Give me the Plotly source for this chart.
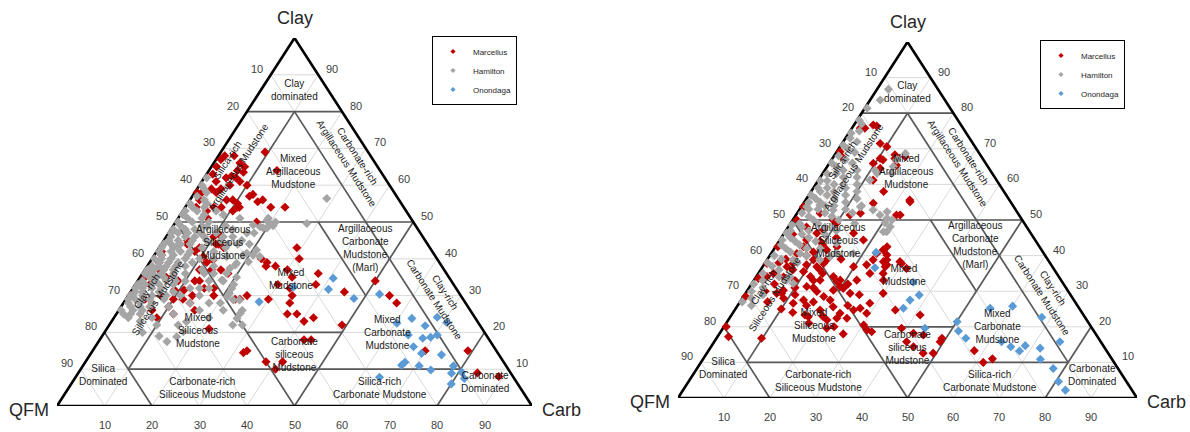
import numpy as np
import plotly.graph_objects as go

# ---------------- data: (clay %, carbonate %) pairs; QFM = 100 - clay - carb ----------------
left_marcellus = [
    (54, 21), (43, 29), (40, 31), (37, 30), (35, 32), (36, 37), (33, 38), (30, 34.5), (28, 35), (25, 38),
    (23, 40.5), (24, 42), (31, 45), (34, 50), (30, 55), (28, 57.5), (22, 49), (18, 43), (12, 41.5), (15, 70),
    (15, 79), (9, 84), (8, 89), (54, 11), (50, 17), (40, 23), (38, 25), (38, 27), (37, 16), (34, 13),
    (37, 14), (33, 30), (32, 33), (29, 30), (30, 25), (29, 24), (29, 23), (14.5, 32), (12, 38), (10, 41),
    (54, 18), (55, 10.5), (37, 11.5), (32, 15), (32, 17), (36, 18), (39, 12), (34, 12), (30, 13.5), (29, 12),
    (30, 18), (26, 16), (31.5, 11), (34, 8.5), (31.5, 9), (39, 2), (37, 3), (35, 5.5), (30, 7), (29, 10),
    (33, 3), (43, 8.5), (42, 8), (45, 5), (21, 21.5), (15, 32.5), (18, 44.5), (25, 36), (44, 12), (46, 10),
    (42, 1), (41, 1.5), (35, 1), (29, 4), (30, 0.5), (27, 10), (26, 7), (25, 12), (28, 14), (24, 9),
    (68, 1.3), (68, 3.3), (69, 9.3), (64, 14.3), (57, 12), (56, 15.3), (63, 1.3), (58, 0.5), (56, 2), (53, 5),
    (54, 6), (56, 7.7), (53, 10.5), (59, 5), (60, 6.4), (61, 8), (60, 10), (64, 6), (62, 4.6), (61, 3),
    (67, 1), (66, 5.5), (65, 7), (65, 1.1), (62.5, 5.5), (62, 6.7), (63.5, 7.5), (59, 3), (58, 1.5), (58, 4.5),
    (56, 9), (57.5, 12.5), (55.5, 14.5), (54, 11.4), (54, 7.6), (51, 6.2), (54, 2.3), (46.5, 11), (44, 11.5), (43, 13.6),
    (44, 5.4), (40.6, 10.5), (39.7, 13), (39, 24.7),
]
left_hamilton = [
    (49.5, 20), (49, 21), (48.4, 20), (48.7, 18.4), (50, 21), (49.6, 27.8), (56.4, 28.6), (47, 16.5), (44, 18.5), (42.4, 20.8),
    (41, 20.8), (41, 18.7), (38.8, 18.4), (37.4, 17.7), (36, 17.7), (34.2, 17.6), (32, 20.8), (29.7, 21), (28.8, 22.7), (28, 20.4),
    (25.2, 26), (23.8, 26), (22, 28), (22, 26), (20.2, 16.5), (18.8, 15.8), (17.5, 14.4), (49.2, 16.7), (50.5, 19), (48.4, 19.2),
    (45, 16.4), (41.5, 19.2), (40.6, 22.4), (38.3, 18.4), (40.6, 15.4), (47, 4), (45, 6), (47, 6.7), (48.7, 7.2), (43.3, 3.5),
    (62, 0.5), (51, 19), (39.2, 20.7), (35, 20.3), (33, 20.7), (30.6, 21), (28.8, 24), (26, 26), (22.9, 15.8), (22, 14.5),
    (60, 0.5), (59, 1.5), (58, 2.5), (57, 1), (56, 3), (55, 0.5), (55, 4), (54, 1.5), (53, 3), (52, 0.5),
    (52, 5), (51, 2), (50, 3.5), (50, 0.5), (49, 6), (49, 1.5), (48, 3), (47, 0.5), (47, 2), (46, 4),
    (46, 8), (45, 1), (45, 3), (44, 6), (44, 2), (43, 0.5), (43, 9), (42, 3), (42, 5), (41, 1.5),
    (41, 7), (40, 0.5), (40, 4), (40, 10), (39, 2), (39, 6), (38, 1), (38, 4), (38, 8), (37, 2),
    (37, 6), (37, 12), (36, 0.5), (36, 4), (36, 9), (35, 2), (35, 5), (35, 7), (34, 1), (34, 3.5),
    (34, 10), (33, 0.5), (33, 5), (33, 8), (32, 2), (32, 4), (32, 12), (31, 1), (31, 6), (31, 9),
    (30, 3), (30, 0.5), (30, 11), (29, 2), (29, 5), (29, 8), (28, 1), (28, 3.5), (28, 14), (27, 2),
    (27, 6), (27, 10), (26, 0.5), (26, 3), (25, 1.5), (25, 5), (25, 12), (24, 3), (24, 8), (23, 6),
    (22, 10), (20, 8), (19, 12), (30, 15), (32, 16), (34, 15), (36, 13), (28, 18), (26, 17), (24, 20),
    (26, 22), (43, 14), (45, 12), (47, 10), (52, 9), (53, 7), (51, 13), (48, 13), (49, 11),
    (54, 4), (53, 0.5), (51, 5), (50, 7), (48, 5), (48, 0.5), (46, 1), (46, 6), (45, 9), (44, 0.5),
    (44, 4), (43, 3), (42, 7), (42, 0.5), (41, 4), (40, 2), (40, 7), (39, 4), (39, 9), (38, 2.5),
    (38, 6), (37, 4), (37, 0.5), (36, 2), (36, 6.5), (35, 3.5), (34, 6), (34, 8), (33, 2), (33, 3.5),
    (32, 6), (32, 0.5), (31, 2.5), (30, 5), (30, 8), (29, 0.5), (29, 3.5), (28, 6), (27, 4), (26, 5),
    (25, 3), (46, 12), (44, 14), (42, 12), (40, 13), (38, 14), (36, 15), (34, 18), (32, 14), (44, 16),
    (46, 14), (47, 18),
]
left_onondaga = [
    (34.7, 40.8), (31.7, 41.3), (29.2, 47.9), (30.4, 52.7), (23.8, 62.8), (21.8, 66.6), (24.1, 68), (22.7, 70.7), (22.5, 60.3), (19.3, 64.3),
    (18.4, 67.8), (18.7, 69.3), (19.3, 70.4), (16.1, 67), (14.3, 69.6), (13.9, 74), (11.1, 67), (11.9, 67.3), (10.9, 70.8), (9.8, 73.8),
    (10.9, 78), (8.9, 78.6), (9.2, 80.6), (7.8, 64), (28.3, 28.4), (32.3, 33.6), (6, 80), (7.5, 82),
]
right_marcellus = [
    (76.4, 5.1), (75.8, 1.8), (75.8, 2.8), (70.6, 10.2), (67.3, 10.4), (66.9, 11.2), (67.3, 13.6), (67.8, 15.6), (65.9, 9.6), (58, 15.8),
    (55.6, 22.7), (69.2, 0.7), (67.8, 1.8), (76.7, 4.2), (71.5, 8.3), (68.3, 13.1), (65.4, 14.9), (64.5, 11.8), (61.2, 11.9), (51.4, 21.9),
    (29.4, 30), (42.5, 0.5), (37.8, 0.5), (33.6, 0.7), (28.5, 0.5), (20, 0.5), (17.2, 2.4), (16.8, 9.8), (29.4, 7.9), (37.4, 9.3),
    (36.9, 11.8), (36, 12.9), (37.8, 12.8), (38.8, 13), (38.8, 10.1), (35.5, 9.6), (34.1, 11.8), (33.1, 14.4), (34.1, 16.8), (32.7, 18.3),
    (33.1, 18.8), (31.3, 12.4), (29.9, 15.3), (28.5, 17.5), (27.5, 19.4), (25.6, 21), (24.7, 18.6), (27.5, 13.6), (26.6, 11.8), (23.8, 23.4),
    (22.4, 23.4), (22.4, 25.6), (21.9, 21.5), (24.7, 25.9), (23.8, 29.2), (25.2, 27.1), (26.6, 28.5), (29.4, 22.8), (33.1, 22.4), (37.4, 22.4),
    (38.8, 23.1), (41.6, 23.9), (42.5, 24.3), (37.4, 26.8), (38.3, 29.2), (35, 27.2), (35, 24.3), (36.9, 19.8), (20.5, 30.2), (19.1, 31.6),
    (18.6, 32.9), (19.6, 38.9), (18.2, 42.2), (15.8, 41.9), (14.4, 44.1), (22.8, 17), (23.3, 16), (30.3, 18.7), (31.3, 19.7), (30.8, 20.6),
    (29.4, 6.8), (30.3, 7.8), (34.1, 2.3), (35, 3.3), (36.9, 5.3), (37.8, 6.2), (40.6, 5.6), (42.5, 6.1), (44.4, 5.8), (46.3, 7.1),
    (47.2, 8.1), (41.6, 11.6), (42.5, 13.4), (46.3, 15.1), (44.4, 18.2), (40.6, 23), (40.2, 25.4), (38.3, 25.6), (50, 0.9), (53.7, 0.5),
    (51.9, 5), (50, 8.8), (51.4, 11.8), (51.9, 13.8), (54.7, 15.2), (51.4, 22.7), (55.1, 23), (38.8, 26.1), (36.9, 26.7), (33.1, 28.2),
    (37.8, 29.8), (36.4, 31.6), (24.7, 35), (23.3, 41.1), (17.7, 44.6), (15.8, 49.2), (12.6, 49.3), (12.6, 47.1), (16.8, 49.1), (13.3, 57.9),
    (10, 61.5), (11, 63), (19.6, 22.6), (40, 8), (39, 4), (41, 9), (43, 10), (38, 3), (36, 7), (34, 6),
    (33, 9), (32, 5), (31, 10), (30, 4), (28, 9), (27, 6), (26, 15), (25, 10), (24, 13), (35, 14),
    (33, 13), (39, 16), (44, 9), (45, 12), (48, 4), (49, 10), (46, 2), (31, 14), (29, 11), (27, 16),
    (32, 21), (29, 25), (26, 24), (23, 20), (21, 18), (20, 24), (18, 27),
]
right_hamilton = [
    (86.7, 2.5), (83.7, 2.2), (81.4, 0.5), (74.4, 0.5), (64, 10.9), (63.1, 11.8), (61.2, 11.2), (49.2, 20.5), (50, 21.6), (46.7, 22.1),
    (48.6, 0.5), (46.3, 0.5), (44.4, 0.5), (38.8, 5.7), (40.6, 6.3), (42, 7), (38.8, 11.5), (39.7, 13.3), (40.6, 14.3), (40.6, 17.9),
    (46.7, 21.4), (50.5, 20.3), (51.4, 18.3), (52.8, 16.1), (53.7, 12.9), (52.8, 7.4), (54.2, 3.8), (53.7, 1.2), (34.1, 7.3), (32.2, 9),
    (33.1, 7.1), (66.9, 14.2), (65, 14.4), (68.7, 15.2), (63.1, 15), (43.5, 12.8), (52.3, 19.4), (48.1, 22.2),
    (78, 0.5), (77, 1.5), (75, 2), (73, 1), (72, 3), (71, 0.5), (70, 2), (69, 4), (68, 1), (67, 3),
    (66, 5), (66, 0.5), (65, 2), (64, 4), (64, 7), (63, 1), (63, 3), (62, 5), (62, 8), (61, 2),
    (61, 0.5), (60, 4), (60, 6), (60, 9), (59, 1), (59, 3), (59, 7), (58, 2), (58, 5), (58, 10),
    (57, 0.5), (57, 4), (57, 8), (56, 2), (56, 6), (56, 11), (55, 1), (55, 3.5), (55, 9), (54, 5),
    (54, 7), (54, 13), (53, 2), (53, 4), (53, 10), (52, 1), (52, 6), (52, 12), (51, 3), (51, 8),
    (50, 4.5), (50, 10), (49, 2), (49, 6), (49, 14), (48, 3), (48, 8), (47, 1), (47, 5), (47, 11),
    (46, 4), (46, 9), (45, 2), (45, 6), (44, 3.5), (44, 8), (43, 1), (43, 5), (42, 2.5), (42, 10),
    (41, 4), (40, 1), (40, 8), (39, 3), (38, 0.5), (38, 7), (37, 2), (36, 4), (35, 1), (34, 5),
    (33, 2), (32, 0.5), (31, 3), (30, 1), (29, 4), (28, 2), (27, 0.5), (26, 3),
]
right_onondaga = [
    (40.9, 22.7), (36.6, 24.6), (32.5, 35), (28.9, 38.1), (27.5, 36.8), (25.2, 36.5), (19.6, 44), (21.4, 50.1), (18.8, 51.7), (16.8, 54.3),
    (25.2, 55.4), (25.8, 60), (22.7, 67.9), (15.8, 75.3), (14, 71.9), (10.9, 73.5), (15.8, 62.6), (14.4, 65.3), (14.7, 68.3), (13.2, 67.8),
    (8.3, 77.6), (4.6, 80.6), (2.2, 83.3),
]

SERIES = ["Marcellus", "Hamilton", "Onondaga"]
COLORS = ["#C00000", "#A5A5A5", "#5B9BD5"]
TICKS = [10, 20, 30, 40, 50, 60, 70, 80, 90]
CORNERS = ["Clay", "QFM", "Carb"]

# facies boundaries of the classification, (clay, carb) -> (clay, carb)
FACIES = [
    ((80, 0), (80, 20)), ((50, 0), (50, 50)), ((20, 0), (0, 20)), ((50, 0), (0, 50)),
    ((20, 80), (0, 80)), ((50, 50), (0, 50)), ((80, 10), (10, 10)), ((80, 10), (10, 80)),
    ((10, 10), (10, 80)), ((50, 20), (30, 20)), ((50, 30), (30, 50)), ((20, 30), (20, 50)),
]

# facies names: text, position inside the triangle (x along base, height), rotation
LABELS = [
    ("Clay<br>dominated", 49.9, 86.0, 0),
    ("Silica-rich<br>Argillaceous Mudstone", 37.1, 66.0, -57),
    ("Mixed<br>Argillaceous<br>Mudstone", 49.7, 63.6, 0),
    ("Carbonate-rich<br>Argillaceous Mudstone", 62.1, 66.8, 57),
    ("Argillaceous<br>Siliceous<br>Mudstone", 34.9, 44.3, 0),
    ("Argillaceous<br>Carbonate<br>Mudstone<br>(Marl)", 64.8, 42.9, 0),
    ("Mixed<br>Mudstone", 49.3, 34.5, 0),
    ("Clay-rich<br>Siliceous Mudstone", 20.0, 30.2, -57),
    ("Mixed<br>Siliceous<br>Mudstone", 29.7, 20.4, 0),
    ("Carbonate<br>siliceous<br>Mudstone", 50.1, 14.1, 0),
    ("Clay-rich<br>Carbonate Mudstone", 80.6, 29.9, 57),
    ("Mixed<br>Carbonate<br>Mudstone", 69.5, 20.1, 0),
    ("Silica<br>Dominated", 9.7, 8.4, 0),
    ("Carbonate-rich<br>Siliceous Mudstone", 30.7, 4.9, 0),
    ("Silica-rich<br>Carbonate Mudstone", 68.0, 4.9, 0),
    ("Carbonate<br>Dominated", 90.1, 6.5, 0),
]

FONT = "Liberation Sans, Arial, sans-serif"


def cart(clay, carb):
    clay = np.asarray(clay, dtype=float)
    carb = np.asarray(carb, dtype=float)
    return carb + clay / 2.0, clay


def segments(pairs):
    xs, ys = [], []
    for (c1, k1), (c2, k2) in pairs:
        x, y = cart([c1, c2], [k1, k2])
        xs += list(x) + [None]
        ys += list(y) + [None]
    return xs, ys


panels = [
    dict(xa="x", ya="y", legend="legend",
         data=[left_marcellus, left_hamilton, left_onondaga]),
    dict(xa="x2", ya="y2", legend="legend2",
         data=[right_marcellus, right_hamilton, right_onondaga]),
]

fig = go.Figure()
annotations = []

for p in panels:
    common = dict(xaxis=p["xa"], yaxis=p["ya"], hoverinfo="skip", showlegend=False)
    grid = []
    for v in TICKS:
        grid += [((v, 0), (v, 100 - v)), ((0, v), (100 - v, v)), ((0, 100 - v), (100 - v, 0))]
    gx, gy = segments(grid)
    fig.add_trace(go.Scatter(x=gx, y=gy, mode="lines",
                             line=dict(color="#D9D9D9", width=1), **common))
    fx, fy = segments(FACIES)
    fig.add_trace(go.Scatter(x=fx, y=fy, mode="lines",
                             line=dict(color="#595959", width=1.7), **common))
    bx, by = cart([0, 100, 0, 0], [0, 0, 100, 0])
    fig.add_trace(go.Scatter(x=bx, y=by, mode="lines",
                             line=dict(color="#000000", width=2.6), cliponaxis=False, **common))

    for name, color, pairs in zip(SERIES, COLORS, p["data"]):
        clay = np.array([q[0] for q in pairs], dtype=float)
        carb = np.array([q[1] for q in pairs], dtype=float)
        x, y = cart(clay, carb)
        fig.add_trace(go.Scatter(
            x=x, y=y, mode="markers", name=name, showlegend=False, cliponaxis=False,
            marker=dict(symbol="diamond", size=7, color=color, line=dict(width=0)),
            customdata=np.c_[clay, carb, 100 - clay - carb],
            hovertemplate="Clay %{customdata[0]:.0f}%<br>Carb %{customdata[1]:.0f}%"
                          "<br>QFM %{customdata[2]:.0f}%<extra>" + name + "</extra>",
            xaxis=p["xa"], yaxis=p["ya"]))

    for name, color in zip(SERIES, COLORS):
        fig.add_trace(go.Scatter(
            x=[None], y=[None], mode="markers", name=name, legend=p["legend"],
            marker=dict(symbol="diamond", size=4, color=color),
            xaxis=p["xa"], yaxis=p["ya"]))

    ref = dict(xref=p["xa"], yref=p["ya"], showarrow=False)
    for text, lx, ly, ang in LABELS:
        annotations.append(dict(x=lx, y=ly, text=text, textangle=ang,
                                font=dict(family=FONT, size=10, color="#1A1A1A"),
                                xanchor="center", yanchor="middle", **ref))
    for v in TICKS:
        lx, ly = cart(100 - v, 0)
        annotations.append(dict(x=float(lx), y=float(ly), text=str(v), xshift=-14, yshift=6,
                                font=dict(family=FONT, size=11, color="#404040"), **ref))
        rx, ry = cart(v, 100 - v)
        annotations.append(dict(x=float(rx), y=float(ry), text=str(v), xshift=14, yshift=6,
                                font=dict(family=FONT, size=11, color="#404040"), **ref))
        annotations.append(dict(x=v, y=0, text=str(v), yshift=-19,
                                font=dict(family=FONT, size=11, color="#404040"), **ref))
    tfont = dict(family=FONT, size=18, color="#262626")
    ax, ay = cart(100, 0)
    annotations.append(dict(x=float(ax), y=float(ay), text=CORNERS[0], yshift=20, font=tfont, **ref))
    annotations.append(dict(x=0, y=0, text=CORNERS[1], xshift=-28, yshift=-4, font=tfont, **ref))
    annotations.append(dict(x=100, y=0, text=CORNERS[2], xshift=29, yshift=-4, font=tfont, **ref))

W, H = 1190, 432
axis_common = dict(range=[0, 100], visible=False, fixedrange=True, showgrid=False, zeroline=False)
legend_common = dict(xanchor="left", yanchor="top", bordercolor="#000000", borderwidth=1,
                     bgcolor="#FFFFFF", font=dict(family=FONT, size=8, color="#262626"),
                     itemwidth=30, tracegroupgap=0, traceorder="normal")

fig.update_layout(
    width=W, height=H,
    margin=dict(l=0, r=0, t=0, b=0),
    paper_bgcolor="#FFFFFF", plot_bgcolor="rgba(0,0,0,0)",
    xaxis=dict(domain=[57 / W, 532 / W], anchor="y", **axis_common),
    yaxis=dict(domain=[26 / H, 394 / H], anchor="x", **axis_common),
    xaxis2=dict(domain=[678 / W, 1137 / W], anchor="y2", **axis_common),
    yaxis2=dict(domain=[34 / H, 390 / H], anchor="x2", **axis_common),
    legend=dict(x=432 / W, y=1 - 36 / H, **legend_common),
    legend2=dict(x=1040 / W, y=1 - 40 / H, **legend_common),
    annotations=annotations,
    showlegend=True,
    hovermode="closest",
)

fig.write_html("out.html")
